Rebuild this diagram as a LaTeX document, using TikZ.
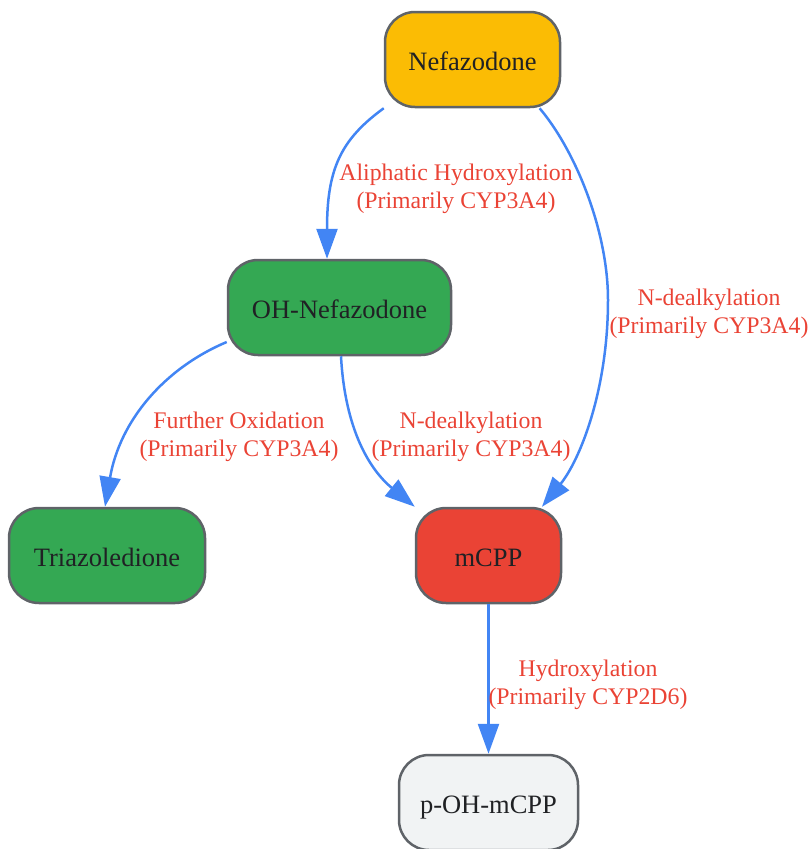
\documentclass[tikz,border=0pt]{standalone}
\usepackage{fontspec}
\setmainfont{Liberation Serif}
\usetikzlibrary{arrows.meta,calc}
\definecolor{nyellow}{HTML}{FBBC04}
\definecolor{ngreen}{HTML}{34A853}
\definecolor{nred}{HTML}{EA4335}
\definecolor{ngray}{HTML}{F1F3F4}
\definecolor{nstroke}{HTML}{5F6368}
\definecolor{ntext}{HTML}{202124}
\definecolor{eblue}{HTML}{4285F4}
\definecolor{lred}{HTML}{EA4335}
\begin{document}
\begin{tikzpicture}[x=1pt,y=-1pt,
 box/.style={draw=nstroke,line width=2.5pt,rounded corners=30pt,minimum height=95pt,inner sep=0pt,text height=21pt,text depth=0pt,text=ntext,font=\fontsize{26.5}{30}\selectfont},
 conn/.style={draw=eblue,line width=2.5pt,-{Triangle[length=30pt,width=21pt]}},
 lbl/.style={text=lred,align=center,font=\fontsize{23.8}{27.8}\selectfont}]
\useasboundingbox (0,0) rectangle (811,849);
\node[box,fill=nyellow,minimum width=175pt] (nef) at (472.5,59.5) {Nefazodone};
\node[box,fill=ngreen,minimum width=223pt] (ohn) at (339.5,307.5) {OH-Nefazodone};
\node[box,fill=ngreen,minimum width=196pt] (tri) at (107,555.5) {Triazoledione};
\node[box,fill=nred,minimum width=145pt] (mcpp) at (488.5,555.5) {mCPP};
\node[box,fill=ngray,minimum width=179pt] (poh) at (488.5,802.5) {p-OH-mCPP};

\draw[conn] (nef.south west) .. controls (340,140) and (327,170) .. ([xshift=-12.5pt]ohn.north);
\draw[conn] (nef.-36.4) .. controls (575,150) and (608,230) .. (608,300)
  .. controls (608,390) and (580,460) .. ([xshift=53.5pt]mcpp.north);
\draw[conn] ([yshift=-34.5pt]ohn.west) .. controls (165,368) and (120,420) .. ([xshift=-2pt]tri.north);
\draw[conn] ([xshift=1.5pt]ohn.south) .. controls (345,430) and (370,470) .. (mcpp.north west);
\draw[conn] (mcpp.south) -- (poh.north);

\node[lbl] (l1) at (456,188.5) {Aliphatic Hydroxylation\\(Primarily CYP3A4)};
\node[lbl] (l2) at (709,313.5) {N-dealkylation\\(Primarily CYP3A4)};
\node[lbl] (l3) at (239,436.5) {Further Oxidation\\(Primarily CYP3A4)};
\node[lbl] (l4) at (471,436.5) {N-dealkylation\\(Primarily CYP3A4)};
\node[lbl] (l5) at (588,684.5) {Hydroxylation\\(Primarily CYP2D6)};
\end{tikzpicture}
\end{document}
